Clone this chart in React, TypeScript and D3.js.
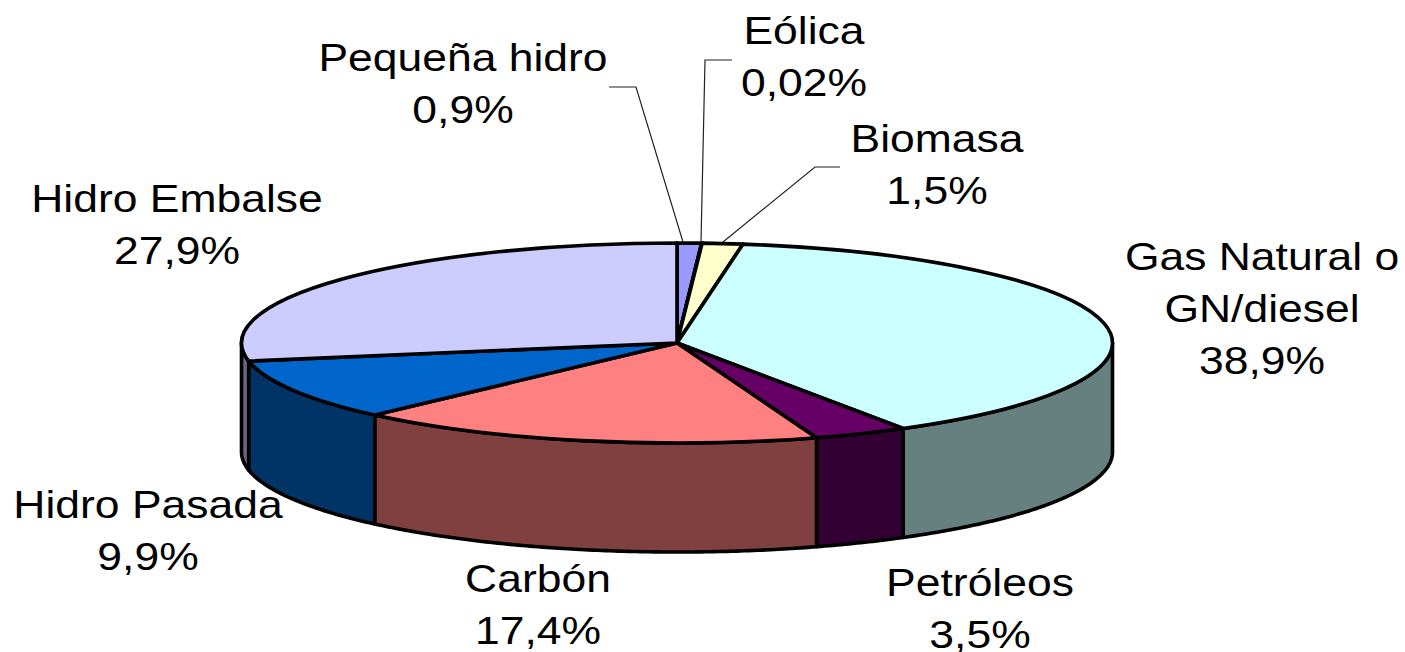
import React from 'react';
import * as d3 from 'd3';

const categories = ['Pequeña hidro', 'Eólica', 'Biomasa', 'Gas Natural o GN/diesel', 'Petróleos', 'Carbón', 'Hidro Pasada', 'Hidro Embalse'];
const shares = [0.9, 0.02, 1.5, 38.9, 3.5, 17.4, 9.9, 27.9];
const topColors = ['#9999FF', '#CCCCCC', '#FFFFCC', '#CCFFFF', '#660066', '#FF8080', '#0066CC', '#CCCCFF'];
const sideColors = ['#4C4C80', '#666666', '#808066', '#668080', '#330033', '#804040', '#003366', '#666680'];

// label lines, split by hand like the original
const labelLines = [
  ['Pequeña hidro', '0,9%'],
  ['Eólica', '0,02%'],
  ['Biomasa', '1,5%'],
  ['Gas Natural o', 'GN/diesel', '38,9%'],
  ['Petróleos', '3,5%'],
  ['Carbón', '17,4%'],
  ['Hidro Pasada', '9,9%'],
  ['Hidro Embalse', '27,9%'],
];
const labelX = [463, 804, 937, 1262, 980, 538, 148, 177];
const labelY = [71, 44, 152, 270, 596, 592, 518, 212];

// leader lines only for the three thin slices
const leaders: [number, number][][] = [
  [[609, 87], [636, 87], [683, 242]],
  [[732, 60], [705, 60], [701, 242]],
  [[840, 167], [815, 167], [723, 242]],
];

const width = 1405;
const height = 652;
const cx = 677;
const cy = 343;
const rx = 435.5;
const ry = 100;
const depth = 109;
const lineGap = 52;
const fontSize = 38;
const stretch = 1.17;
const edge = 3.6;

const px = (a: number) => cx + rx * Math.sin(a);
const py = (a: number) => cy - ry * Math.cos(a);

export default function App() {
  const indexes = d3.range(categories.length);
  const slices = d3.pie<number>().sort(null).value(i => shares[i])(indexes);

  const topArc = d3.arc<any>().innerRadius(0).outerRadius(rx);

  // outer wall of a slice, only the part that faces the viewer
  const wall = d3.area<number>()
    .x(a => px(a))
    .y0(a => py(a))
    .y1(a => py(a) + depth);

  const walls = slices
    .map(s => {
      const a0 = Math.max(s.startAngle, Math.PI / 2);
      const a1 = Math.min(s.endAngle, (3 * Math.PI) / 2);
      if (a1 <= a0) return null;
      const steps = d3.range(a0, a1, 0.01).concat(a1);
      return { i: s.data, d: wall(steps) as string };
    })
    .filter(Boolean) as { i: number; d: string }[];

  const leaderLine = d3.line();

  return (
    <svg width={width} height={height} style={{ position: 'absolute', left: 0, top: 0, background: '#fff' }}>
      {walls.map(w => (
        <path key={w.i} d={w.d} fill={sideColors[w.i]} stroke="#000" strokeWidth={edge} strokeLinejoin="round" />
      ))}

      <g transform={`translate(${cx},${cy}) scale(1,${ry / rx})`}>
        {slices.map(s => (
          <path
            key={s.data}
            d={topArc(s) as string}
            fill={topColors[s.data]}
            stroke="#000"
            strokeWidth={edge}
            strokeLinejoin="round"
            vectorEffect="non-scaling-stroke"
          />
        ))}
      </g>

      {leaders.map((pts, i) => (
        <path key={i} d={leaderLine(pts) as string} fill="none" stroke="#222" strokeWidth={1.2} />
      ))}

      <g fontFamily="'Liberation Sans', Arial, sans-serif" fontSize={fontSize} fill="#000">
        {labelLines.map((lines, i) =>
          lines.map((t, j) => (
            <text
              key={t}
              textAnchor="middle"
              transform={`translate(${labelX[i]},${labelY[i] + j * lineGap}) scale(${stretch},1)`}
            >
              {t}
            </text>
          ))
        )}
      </g>
    </svg>
  );
}
